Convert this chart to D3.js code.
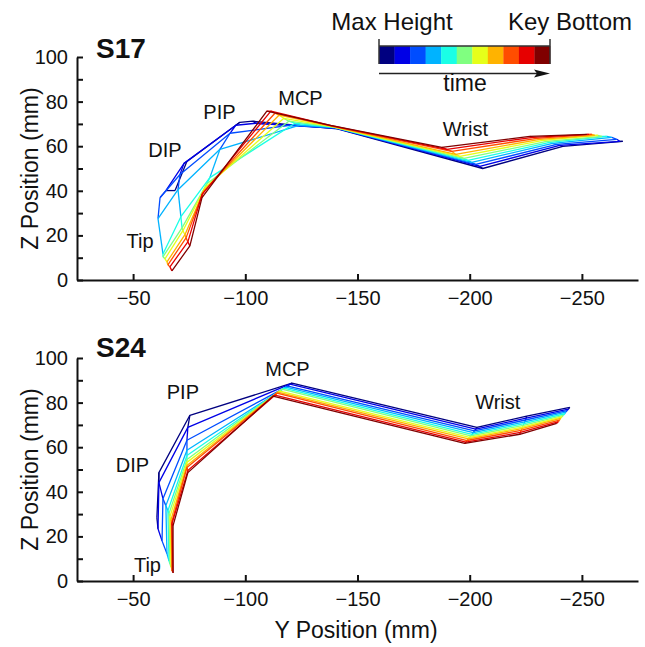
<!DOCTYPE html>
<html>
<head>
<meta charset="utf-8">
<script src="https://cdn.jsdelivr.net/npm/d3@7"></script>
<style>
  html, body { margin: 0; padding: 0; background: #fff; }
  svg { display: block; }
  text { font-family: "Liberation Sans", Arial, Helvetica, sans-serif; fill: #111; }
</style>
</head>
<body>
<svg id="chart" width="645" height="647"></svg>
<script>
// ---------------- DATA ----------------
// 11 frames (Max Height -> Key Bottom), jet colours
const frameColors = ["#000080","#0000e6","#004dff","#00b3ff","#1affe6","#80ff80","#e6ff1a","#ffb300","#ff4d00","#e60000","#800000"];

// S17 : joints Tip, DIP, PIP, MCP, Hand, Wrist, Forearm, End
const s17Joints = ["Tip","DIP","PIP","MCP","Hand","Wrist","Fore","End"];
const s17Y = [
  [-68.7, -74.0, -97.6, -103.4, -141.0, -205.8, -241.5, -268.2],
  [-64.6, -72.7, -95.8, -104.7, -140.7, -204.5, -240.1, -266.9],
  [-62.0, -70.9, -93.2, -119.9, -140.4, -202.7, -238.8, -265.5],
  [-61.1, -70.0, -88.7, -124.3, -140.1, -200.9, -237.0, -263.3],
  [-63.3, -71.3, -84.2, -122.1, -139.8, -199.2, -235.7, -261.1],
  [-63.3, -71.8, -82.9, -119.4, -139.5, -197.4, -234.4, -258.9],
  [-64.2, -72.2, -82.0, -117.2, -139.2, -195.6, -232.6, -257.1],
  [-65.1, -73.1, -81.6, -115.0, -138.9, -193.8, -231.2, -255.7],
  [-65.5, -73.6, -81.1, -113.2, -138.6, -192.0, -229.9, -254.4],
  [-66.4, -74.4, -80.7, -111.4, -138.3, -189.8, -228.1, -253.1],
  [-67.3, -75.3, -80.7, -109.6, -138.0, -187.6, -226.8, -252.2]
];
const s17Z = [
  [40.1, 53.2, 70.7, 71.2, 67.8, 50.0, 59.9, 62.2],
  [40.1, 52.3, 69.4, 70.3, 68.0, 50.9, 60.4, 62.2],
  [36.9, 47.3, 65.8, 69.4, 68.1, 51.8, 60.8, 63.1],
  [27.5, 40.5, 58.6, 69.4, 68.3, 52.7, 61.3, 64.0],
  [11.7, 28.4, 45.9, 70.3, 68.4, 53.6, 61.7, 64.4],
  [10.4, 23.4, 43.2, 71.2, 68.6, 54.5, 62.2, 64.4],
  [ 9.5, 22.1, 41.4, 72.5, 68.7, 55.4, 62.6, 64.9],
  [ 8.1, 20.3, 40.1, 73.9, 68.9, 56.3, 63.1, 64.9],
  [ 6.8, 18.9, 39.2, 74.8, 69.0, 57.7, 63.5, 65.3],
  [ 5.9, 17.1, 38.3, 75.7, 69.2, 58.6, 64.0, 65.3],
  [ 4.1, 15.3, 36.9, 75.7, 69.3, 59.5, 64.4, 65.3]
];

// S24 : joints Tip, DIP, PIP, MCP, Wrist, Forearm, End
const s24Joints = ["Tip","DIP","PIP","MCP","Wrist","Fore","End"];
const s24Y = [
  [-60.6, -61.5, -75.3, -120.8, -203.2, -225.4, -244.6],
  [-61.1, -61.5, -74.4, -119.9, -202.7, -225.1, -244.0],
  [-62.9, -63.3, -74.0, -119.0, -202.1, -224.8, -243.4],
  [-65.1, -64.6, -74.0, -118.1, -201.6, -224.5, -242.8],
  [-66.0, -65.5, -74.0, -117.2, -201.0, -224.2, -242.3],
  [-66.4, -66.0, -74.0, -116.3, -200.5, -223.9, -241.7],
  [-66.9, -66.4, -74.0, -115.4, -199.9, -223.5, -241.1],
  [-67.3, -66.9, -74.0, -114.5, -199.4, -223.2, -240.5],
  [-67.3, -67.3, -74.0, -114.1, -198.8, -222.9, -240.0],
  [-67.8, -67.3, -74.4, -113.2, -198.3, -222.6, -239.4],
  [-67.8, -67.8, -74.4, -112.3, -197.8, -222.3, -238.8]
];
const s24Z = [
  [28.4, 48.6, 74.3, 88.7, 68.9, 73.9, 77.9],
  [23.4, 44.1, 68.9, 88.3, 68.1, 73.0, 77.1],
  [18.0, 36.9, 63.1, 87.4, 67.3, 72.2, 76.4],
  [12.2, 33.8, 58.6, 86.9, 66.5, 71.4, 75.7],
  [ 9.0, 31.5, 56.3, 86.5, 65.8, 70.6, 75.0],
  [ 7.7, 30.2, 54.5, 86.0, 65.1, 69.8, 74.3],
  [ 6.3, 28.8, 53.2, 85.1, 64.4, 69.0, 73.6],
  [ 5.4, 27.5, 51.8, 84.7, 63.7, 68.3, 72.9],
  [ 4.5, 26.6, 50.9, 84.2, 63.0, 67.5, 72.1],
  [ 4.1, 25.7, 49.5, 83.3, 62.3, 66.6, 71.4],
  [ 3.6, 24.8, 48.6, 82.9, 61.7, 65.8, 70.7]
];

const xTicks = [-50, -100, -150, -200, -250];
const yTicks = [0, 10, 20, 30, 40, 50, 60, 70, 80, 90, 100];

const panels = [
  { name: "S17", Y: s17Y, Z: s17Z, joints: s17Joints, top: 57, bottom: 280,
    labels: [ {t:"MCP", x:-124.6, z:78.5}, {t:"PIP", x:-88.5, z:72.2}, {t:"DIP", x:-64.2, z:55.2},
              {t:"Tip", x:-53.1, z:14.3}, {t:"Wrist", x:-198.1, z:64.6} ] },
  { name: "S24", Y: s24Y, Z: s24Z, joints: s24Joints, top: 358, bottom: 581,
    labels: [ {t:"MCP", x:-118.8, z:91.9}, {t:"PIP", x:-72.2, z:81.6}, {t:"DIP", x:-49.7, z:48.9},
              {t:"Tip", x:-56.4, z:4.0}, {t:"Wrist", x:-212.5, z:77.1} ] }
];

// ---------------- DRAW ----------------
const svg = d3.select("#chart");
const x = d3.scaleLinear().domain([-25, -275]).range([77, 638]);
const frameIdx = d3.range(frameColors.length);
const color = d3.scaleOrdinal().domain(frameIdx).range(frameColors);

panels.forEach(p => {
  const y = d3.scaleLinear().domain([0, 100]).range([p.bottom, p.top]);
  const g = svg.append("g");

  // axes
  const xAxis = d3.axisBottom(x).tickValues(xTicks).tickSizeInner(-6).tickSizeOuter(0)
    .tickPadding(11).tickFormat(d => "\u2212" + Math.abs(d));
  const gx = g.append("g").attr("transform", `translate(0,${p.bottom})`).call(xAxis);
  const yAxis = d3.axisLeft(y).tickValues(yTicks).tickSizeInner(-6).tickSizeOuter(0)
    .tickPadding(9).tickFormat(d => d % 20 === 0 ? d : "");
  const gy = g.append("g").attr("transform", `translate(77,0)`).call(yAxis);
  [gx, gy].forEach(a => {
    a.select(".domain").attr("stroke", "#111").attr("stroke-width", 2);
    a.selectAll(".tick line").attr("stroke", "#111").attr("stroke-width", 2);
    a.selectAll(".tick text").attr("font-size", 20).attr("fill", "#111")
      .style("font-family", '"Liberation Sans", Arial, sans-serif');
  });

  // mesh lines: rows (frames) and columns (joints across frames)
  const line = d3.line().x(d => x(d[0])).y(d => y(d[1]));
  const mesh = g.append("g").attr("fill", "none").attr("stroke-width", 1.3)
    .attr("stroke-linejoin", "round");
  frameIdx.forEach(f => {
    const pts = p.joints.map((j, k) => [p.Y[f][k], p.Z[f][k]]);
    if (f < frameIdx.length - 1) {
      p.joints.forEach((j, k) => {
        mesh.append("path")
          .attr("d", line([[p.Y[f][k], p.Z[f][k]], [p.Y[f + 1][k], p.Z[f + 1][k]]]))
          .attr("stroke", color(f));
      });
    }
    mesh.append("path").attr("d", line(pts)).attr("stroke", color(f));
  });

  // joint labels
  p.labels.forEach(l => {
    g.append("text").attr("x", x(l.x)).attr("y", y(l.z))
      .attr("font-size", 20).attr("text-anchor", "middle").text(l.t);
  });

  // panel name
  g.append("text").attr("x", 96).attr("y", p.top + (p.name === "S17" ? 1 : -1))
    .attr("font-size", 28).attr("font-weight", "bold").text(p.name);

  // y axis title
  g.append("text")
    .attr("transform", `translate(38,${(p.top + p.bottom) / 2}) rotate(-90)`)
    .attr("text-anchor", "middle").attr("font-size", 23).text("Z Position (mm)");
});

// x axis title
svg.append("text").attr("x", 356).attr("y", 638).attr("text-anchor", "middle")
  .attr("font-size", 23).text("Y Position (mm)");

// ---------------- COLOUR KEY ----------------
const cb = d3.scaleBand().domain(frameIdx).range([379, 550]);
const key = svg.append("g");
key.selectAll("rect").data(frameIdx).join("rect")
  .attr("x", d => cb(d)).attr("y", 46).attr("width", cb.bandwidth() + 0.3).attr("height", 18)
  .attr("fill", d => color(d));
key.append("path").attr("d", `M379,39V64 M550,39V64 M379,46H550`)
  .attr("stroke", "#333").attr("stroke-width", 1.5).attr("fill", "none");
key.append("line").attr("x1", 379).attr("x2", 540).attr("y1", 73.5).attr("y2", 73.5)
  .attr("stroke", "#222").attr("stroke-width", 1.6);
key.append("path").attr("d", "M534,69.5 L550,73.5 L534,77.5 L537,73.5 Z").attr("fill", "#111");
key.append("text").attr("x", 392).attr("y", 30).attr("text-anchor", "middle")
  .attr("font-size", 24).text("Max Height");
key.append("text").attr("x", 570).attr("y", 30).attr("text-anchor", "middle")
  .attr("font-size", 24).text("Key Bottom");
key.append("text").attr("x", 465).attr("y", 91).attr("text-anchor", "middle")
  .attr("font-size", 23).text("time");
</script>
</body>
</html>
